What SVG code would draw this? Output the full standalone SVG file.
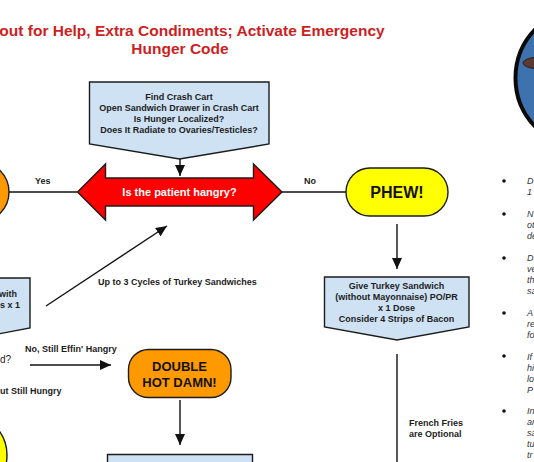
<svg xmlns="http://www.w3.org/2000/svg" width="534" height="462" viewBox="0 0 534 462">
<style>
text{font-family:"Liberation Sans",Arial,sans-serif;fill:#1c1c1c}
.b{font-weight:bold}
.l{font-size:9px;font-weight:bold}
.m{text-anchor:middle}
.e{text-anchor:end}
.t{font-size:15.5px;font-weight:bold;fill:#cc1f24}
.n{font-size:9px;font-style:italic;fill:#333}
.box{fill:#cfe2f3;stroke:#1c1c1c;stroke-width:1.4}
.o{stroke:#1c1c1c;stroke-width:1.4}
.c line{stroke:#111;stroke-width:1.4}
</style>
<defs>
<marker id="a" markerUnits="userSpaceOnUse" markerWidth="12" markerHeight="11" refX="11" refY="5" orient="auto"><path d="M0 0L11 5L0 10Z" fill="#111"/></marker>
</defs>
<rect width="534" height="462" fill="#fff"/>
<text class="t m" x="192" y="36">out for Help, Extra Condiments; Activate Emergency</text>
<text class="t m" x="180" y="54">Hunger Code</text>
<g id="connectors" class="c">
<line x1="180" y1="159" x2="180" y2="176" marker-end="url(#a)"/>
<line x1="9" y1="192" x2="77" y2="192"/>
<line x1="282" y1="192" x2="346" y2="192"/>
<line x1="397" y1="224" x2="397" y2="269" marker-end="url(#a)"/>
<line x1="397" y1="354" x2="397" y2="462"/>
<line x1="46" y1="306" x2="167" y2="226" marker-end="url(#a)"/>
<line x1="30" y1="365" x2="111" y2="365" marker-end="url(#a)"/>
<line x1="180" y1="400" x2="180" y2="445" marker-end="url(#a)"/>
</g>
<g id="crash-cart">
<path class="box" d="M89.500 82H269V144L179.500 159L89.500 144Z"/>
<text class="l m" x="179" y="100">Find Crash Cart</text>
<text class="l m" x="179" y="111">Open Sandwich Drawer in Crash Cart</text>
<text class="l m" x="179" y="122">Is Hunger Localized?</text>
<text class="l m" x="179" y="133">Does It Radiate to Ovaries/Testicles?</text>
</g>
<g id="hangry">
<path d="M77.500 192L105.500 164V178H253.500V164L282 192L253.500 220V206H105.500V220Z" fill="#f00" stroke="#1c1c1c" stroke-width="1.400"/>
<text class="m b" x="179.500" y="196" font-size="11" style="fill:#fff">Is the patient hangry?</text>
</g>
<g id="orange-left"><circle class="o" cx="-21" cy="192" r="30" fill="#f90"/></g>
<g id="phew">
<rect class="o" x="346" y="168" width="102" height="48" rx="24" fill="#ff0"/>
<text class="m b" x="397" y="198" font-size="16" style="fill:#111">PHEW!</text>
</g>
<g id="give-turkey">
<path class="box" d="M324.500 277H469V327L397 340L324.500 327Z"/>
<text class="l m" x="396.500" y="289">Give Turkey Sandwich</text>
<text class="l m" x="396.500" y="300">(without Mayonnaise) PO/PR</text>
<text class="l m" x="396.500" y="311">x 1 Dose</text>
<text class="l m" x="396.500" y="322">Consider 4 Strips of Bacon</text>
</g>
<g id="left-box">
<path class="box" d="M-2 278H30V328L-2 334Z"/>
<text class="l e" x="17" y="297">with</text>
<text class="l e" x="20" y="308">es x 1</text>
</g>
<g id="double-hot-damn">
<rect class="o" x="128.500" y="349.500" width="102.500" height="48" rx="20" fill="#f90"/>
<text class="m b" x="179.500" y="371" font-size="13" style="fill:#111">DOUBLE</text>
<text class="m b" x="179.500" y="387" font-size="13" style="fill:#111">HOT DAMN!</text>
</g>
<g id="yellow-left"><circle class="o" cx="-34" cy="455" r="41" fill="#ff0"/></g>
<g id="bottom-box"><path class="box" d="M107.500 454.500H252.500V470H107.500Z"/></g>
<g id="labels">
<text class="l" x="35" y="184">Yes</text>
<text class="l" x="304" y="184">No</text>
<text class="l" x="98" y="285">Up to 3 Cycles of Turkey Sandwiches</text>
<text class="l" x="25" y="352">No, Still Effin' Hangry</text>
<text class="l" x="0" y="394">ut Still Hungry</text>
<text x="0" y="363" font-size="10">d?</text>
<text class="l" x="409" y="426">French Fries</text>
<text class="l" x="409" y="437">are Optional</text>
</g>
<g id="badge">
<circle cx="585.500" cy="78" r="70" fill="#3e72ae" stroke="#0a0a0a" stroke-width="4"/>
<ellipse cx="545" cy="63" rx="22" ry="6.500" fill="#5a3a32" stroke="#2a1a16"/>
</g>
<g id="notes" fill="#111">
<circle cx="504" cy="181" r="1.800"/><circle cx="504" cy="214" r="1.800"/><circle cx="504" cy="258" r="1.800"/><circle cx="504" cy="313" r="1.800"/><circle cx="504" cy="356" r="1.800"/><circle cx="504" cy="411" r="1.800"/>
<text class="n" x="527" y="184">D</text><text class="n" x="527" y="195">1</text>
<text class="n" x="527" y="217">N</text><text class="n" x="527" y="228">ot</text><text class="n" x="527" y="239">de</text>
<text class="n" x="527" y="261">D</text><text class="n" x="527" y="272">ve</text><text class="n" x="527" y="283">th</text><text class="n" x="527" y="294">sa</text>
<text class="n" x="527" y="316">A</text><text class="n" x="527" y="327">re</text><text class="n" x="527" y="338">fo</text>
<text class="n" x="527" y="360">If</text><text class="n" x="527" y="371">hi</text><text class="n" x="527" y="382">lo</text><text class="n" x="527" y="393">P</text>
<text class="n" x="527" y="414">In</text><text class="n" x="527" y="425">ar</text><text class="n" x="527" y="436">sa</text><text class="n" x="527" y="447">tu</text><text class="n" x="527" y="458">tr</text>
</g>
</svg>
